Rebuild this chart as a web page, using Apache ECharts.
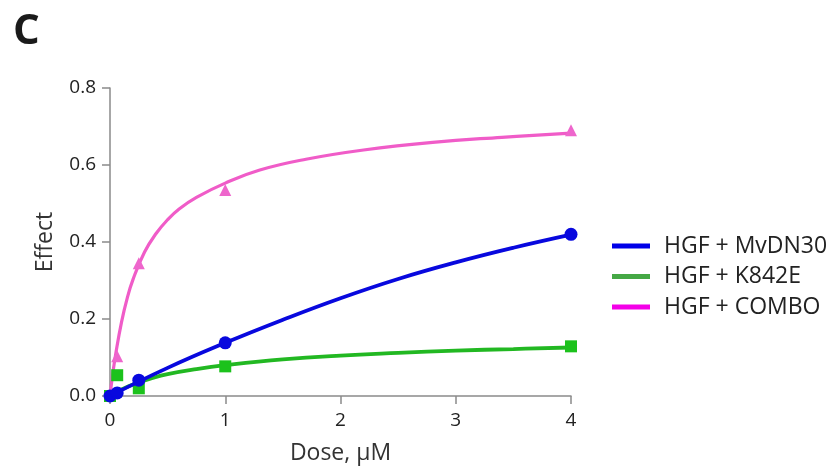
<!DOCTYPE html>
<html>
<head>
<meta charset="utf-8">
<script src="https://cdn.jsdelivr.net/npm/echarts@6/dist/echarts.min.js"></script>
<style>
  html, body { margin: 0; padding: 0; background: #fff; }
  #chart { width: 836px; height: 471px; }
</style>
</head>
<body>
<div id="chart"></div>
<script>
// Measured responses
const seriesNames = ['HGF + MvDN30', 'HGF + K842E', 'HGF + COMBO'];
const doses = [0, 0.0625, 0.25, 1, 4];
const mvdn30Points = [0, 0.008, 0.041, 0.138, 0.420];
const k842ePoints = [0, 0.054, 0.020, 0.077, 0.129];
const comboPoints = [0, 0.103, 0.345, 0.535, 0.690];

// Fitted dose–response curves
const mvdn30FitDose = [0, 0.5, 1, 1.5, 2, 2.5, 3, 3.5, 4];
const mvdn30Fit = [0, 0.073, 0.138, 0.198, 0.254, 0.304, 0.347, 0.385, 0.419];
const k842eFitDose = [0, 0.05, 0.1, 0.2, 0.35, 0.5, 0.75, 1, 1.5, 2, 2.5, 3, 3.5, 4];
const k842eFit = [0, 0.009, 0.017, 0.030, 0.045, 0.057, 0.070, 0.080, 0.095, 0.105, 0.112, 0.118, 0.122, 0.126];
const comboFitDose = [0, 0.025, 0.05, 0.1, 0.15, 0.2, 0.3, 0.4, 0.5, 0.6, 0.75, 1, 1.3, 1.7, 2.2, 2.8, 3.4, 4];
const comboFit = [0, 0.060, 0.110, 0.192, 0.255, 0.303, 0.374, 0.422, 0.458, 0.486, 0.516, 0.553, 0.587, 0.615, 0.639, 0.659, 0.672, 0.683];

const xTicks = [0, 1, 2, 3, 4];
const yTicks = ['0.0', '0.2', '0.4', '0.6', '0.8'];

const lineColors = ['#0808de', '#22b822', '#f05cc8'];
const markColors = ['#0808de', '#1cc21c', '#ee66cc'];
const legendColors = ['#0000e8', '#45a845', '#f400e8'];
const symbols = ['circle', 'rect', 'triangle'];
const symbolSizes = [13, 12, 12];

const pair = (xs, ys) => xs.map((x, i) => [x, ys[i]]);
const fits = [pair(mvdn30FitDose, mvdn30Fit), pair(k842eFitDose, k842eFit), pair(comboFitDose, comboFit)];
const pts = [pair(doses, mvdn30Points), pair(doses, k842ePoints), pair(doses, comboPoints)];

const FONT = '"Open Sans", "Noto Sans", sans-serif';
const series = [];
// draw COMBO first so MvDN30 ends on top
[2, 1, 0].forEach((i, k) => {
  series.push({
    name: seriesNames[i], type: 'line', data: fits[i],
    showSymbol: false, smooth: 0.45,
    lineStyle: { color: lineColors[i], width: i === 2 ? 3.2 : 3.8 },
    itemStyle: { color: lineColors[i] },
    z: 2 + k, silent: true
  });
  series.push({
    name: seriesNames[i], type: 'scatter', data: pts[i],
    symbol: symbols[i], symbolSize: symbolSizes[i],
    itemStyle: { color: markColors[i], opacity: 1 },
    z: 2 + k
  });
});

const chart = echarts.init(document.getElementById('chart'));
chart.setOption({
  backgroundColor: '#fff',
  animation: false,
  title: {
    text: 'C', left: 8, top: 6,
    textStyle: { fontFamily: FONT, fontSize: 42, fontWeight: 'bold', color: '#1a1a1a' }
  },
  grid: { left: 110, right: 265, top: 88, bottom: 75 },
  legend: {
    orient: 'vertical', left: 607, top: 229,
    icon: 'rect', itemWidth: 38, itemHeight: 5, itemGap: 6.5,
    textStyle: { fontFamily: FONT, fontSize: 23, color: '#222', lineHeight: 24, padding: [0, 0, 0, 9] },
    data: seriesNames.map((n, i) => ({ name: n, itemStyle: { color: legendColors[i] } }))
  },
  xAxis: {
    type: 'value', min: xTicks[0], max: xTicks[xTicks.length - 1], interval: 1,
    name: 'Dose, µM', nameLocation: 'middle', nameGap: 46,
    nameTextStyle: { fontFamily: FONT, fontSize: 23, color: '#333' },
    axisLine: { show: true, lineStyle: { color: '#8a8a8a', width: 1.5 } },
    axisTick: { show: true, length: 8, lineStyle: { color: '#8a8a8a', width: 1.5 } },
    axisLabel: { fontFamily: FONT, fontSize: 19, color: '#222', margin: 15 },
    splitLine: { show: false }
  },
  yAxis: {
    type: 'value', min: 0, max: 0.8, interval: 0.2,
    name: 'Effect', nameLocation: 'middle', nameGap: 53, nameRotate: 90,
    nameTextStyle: { fontFamily: FONT, fontSize: 23, color: '#333' },
    axisLine: { show: true, lineStyle: { color: '#8a8a8a', width: 1.5 } },
    axisTick: { show: true, length: 8, lineStyle: { color: '#8a8a8a', width: 1.5 } },
    axisLabel: {
      fontFamily: FONT, fontSize: 19, color: '#222', margin: 14,
      formatter: v => yTicks[Math.round(v / 0.2)]
    },
    splitLine: { show: false }
  },
  series
});
</script>
</body>
</html>
